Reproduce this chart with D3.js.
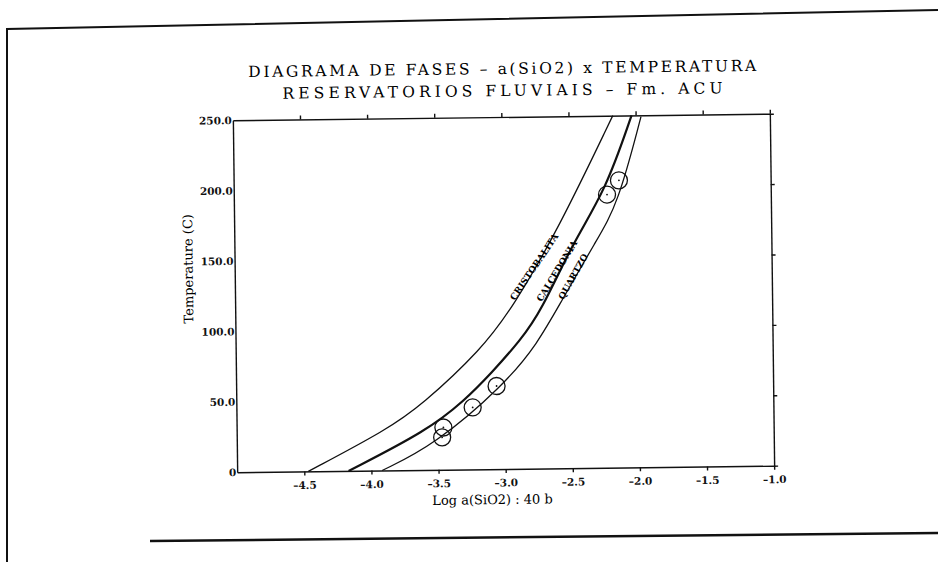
<!DOCTYPE html>
<html>
<head>
<meta charset="utf-8">
<script src="https://cdn.jsdelivr.net/npm/d3@7"></script>
<style>
  body { margin: 0; background: #fff; }
  svg { display: block; }
</style>
</head>
<body>
<script>
const width = 938;
const height = 562;

// axes
const xTicks = [-4.5, -4.0, -3.5, -3.0, -2.5, -2.0, -1.5, -1.0];
const yTicks = [0, 50, 100, 150, 200, 250];
const yTickLabels = ["0", "50.0", "100.0", "150.0", "200.0", "250.0"];

// solubility curves (log a(SiO2), temperature C)
const cristobalitaX = [-4.47, -3.88, -3.62, -3.17, -2.93, -2.58, -2.17];
const cristobalitaT = [0, 29, 46, 85, 115, 171, 250];
const calcedoniaX = [-4.17, -3.58, -3.30, -3.10, -2.88, -2.72, -2.48, -2.23, -2.03];
const calcedoniaT = [0, 28, 49, 68, 91, 112, 160, 197, 250];
const quartzoX = [-3.92, -3.53, -3.00, -2.75, -2.58, -2.30, -2.14, -1.96];
const quartzoT = [0, 17.5, 60, 89, 117, 162, 187, 249];

// samples
const sampleX = [-2.13, -2.22, -3.06, -3.24, -3.46, -3.47];
const sampleT = [204, 194, 59, 44, 30, 23];

// curve labels
const curveNames = ["CRISTOBALITA", "CALCEDONIA", "QUARTZO"];
const curveLabelX = [-2.75, -2.58, -2.46];
const curveLabelT = [142, 139, 135];
const curveLabelAngle = [-55, -58, -60];

const svg = d3.select("body").append("svg")
    .attr("width", width)
    .attr("height", height);

// scanned page frame
svg.append("path")
    .attr("d", "M7,562 L7,29 L938,10")
    .attr("fill", "none")
    .attr("stroke", "#111")
    .attr("stroke-width", 2);
svg.append("path")
    .attr("d", "M150,541 L938,533")
    .attr("fill", "none")
    .attr("stroke", "#111")
    .attr("stroke-width", 2.5);

const g = svg.append("g")
    .attr("transform", "rotate(-0.7, 503, 293)");

const x = d3.scaleLinear().domain([-5, -1]).range([235, 772]);
const y = d3.scaleLinear().domain([0, 250]).range([469, 117]);

const font = "'DejaVu Serif', 'Liberation Serif', serif";

// title
g.append("text")
    .attr("x", 505).attr("y", 74)
    .attr("text-anchor", "middle")
    .attr("font-family", font).attr("font-size", 15.5)
    .attr("textLength", 508).attr("lengthAdjust", "spacing")
    .text("DIAGRAMA DE FASES \u2013 a(SiO2) x TEMPERATURA");
g.append("text")
    .attr("x", 505).attr("y", 96)
    .attr("text-anchor", "middle")
    .attr("font-family", font).attr("font-size", 15.5)
    .attr("textLength", 440).attr("lengthAdjust", "spacing")
    .text("RESERVATORIOS FLUVIAIS \u2013 Fm. ACU");

function styleAxis(sel) {
    sel.selectAll("path, line").attr("stroke", "#111").attr("stroke-width", 1.4);
    sel.selectAll("text")
        .attr("font-family", font)
        .attr("font-size", 10.5)
        .attr("font-weight", "bold")
        .attr("fill", "#111");
}

g.append("g")
    .attr("transform", `translate(0,${y(0)})`)
    .call(d3.axisBottom(x).tickValues(xTicks).tickSize(4).tickSizeOuter(0)
        .tickPadding(6).tickFormat(d => d.toFixed(1).replace("-", "\u2013")))
    .call(styleAxis);

g.append("g")
    .attr("transform", `translate(0,${y(250)})`)
    .call(d3.axisTop(x).tickValues(xTicks).tickSize(4).tickSizeOuter(0).tickFormat(""))
    .call(styleAxis);

g.append("g")
    .attr("transform", `translate(${x(-5)},0)`)
    .call(d3.axisLeft(y).tickValues(yTicks).tickSize(0).tickPadding(1)
        .tickFormat((d, i) => yTickLabels[i]))
    .call(styleAxis);

g.append("g")
    .attr("transform", `translate(${x(-1)},0)`)
    .call(d3.axisRight(y).tickValues(yTicks).tickSize(4).tickSizeOuter(0).tickFormat(""))
    .call(styleAxis);

// axis titles
g.append("text")
    .attr("transform", `translate(193,265) rotate(-90)`)
    .attr("text-anchor", "middle")
    .attr("font-family", font).attr("font-size", 13)
    .text("Temperature (C)");

g.append("text")
    .attr("x", 490).attr("y", 504)
    .attr("text-anchor", "middle")
    .attr("font-family", font).attr("font-size", 13)
    .text("Log a(SiO2) : 40 b");

// curves
const line = d3.line()
    .x(d => x(d[0]))
    .y(d => y(d[1]))
    .curve(d3.curveBasis);

const curves = [
    { xs: cristobalitaX, ts: cristobalitaT, w: 1.3 },
    { xs: calcedoniaX, ts: calcedoniaT, w: 2.2 },
    { xs: quartzoX, ts: quartzoT, w: 1.3 }
];

g.append("g")
    .selectAll("path")
    .data(curves)
    .enter()
    .append("path")
    .attr("d", c => line(c.xs.map((v, i) => [v, c.ts[i]])))
    .attr("fill", "none")
    .attr("stroke", "#111")
    .attr("stroke-width", c => c.w);

// curve labels
g.append("g")
    .selectAll("text")
    .data(curveNames)
    .enter()
    .append("text")
    .attr("transform", (d, i) =>
        `translate(${x(curveLabelX[i])},${y(curveLabelT[i])}) rotate(${curveLabelAngle[i]})`)
    .attr("text-anchor", "middle")
    .attr("font-family", font)
    .attr("font-size", 9)
    .attr("font-weight", "bold")
    .text(d => d);

// sample points
const pts = sampleX.map((v, i) => [v, sampleT[i]]);
g.append("g")
    .selectAll("circle")
    .data(pts)
    .enter()
    .append("circle")
    .attr("cx", d => x(d[0]))
    .attr("cy", d => y(d[1]))
    .attr("r", 8.5)
    .attr("fill", "none")
    .attr("stroke", "#111")
    .attr("stroke-width", 1.3);
g.append("g")
    .selectAll("circle")
    .data(pts)
    .enter()
    .append("circle")
    .attr("cx", d => x(d[0]))
    .attr("cy", d => y(d[1]))
    .attr("r", 0.9)
    .attr("fill", "#111");
</script>
</body>
</html>
